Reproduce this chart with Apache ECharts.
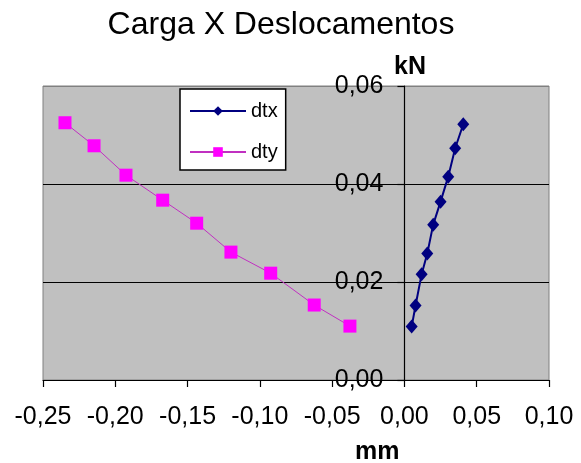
<!DOCTYPE html>
<html>
<head>
<meta charset="utf-8">
<script src="https://cdn.jsdelivr.net/npm/echarts@6/dist/echarts.min.js"></script>
<style>
  html, body { margin: 0; padding: 0; background: #fff; }
  #chart { width: 581px; height: 463px; }
</style>
</head>
<body>
<div id="chart"></div>
<script>
// Load (kN) versus displacement (mm) for the two measured directions
const dtxDisp = [0.0050, 0.0077, 0.0119, 0.0158, 0.0199, 0.0250, 0.0303, 0.0351, 0.0407];
const dtxLoad = [0.0109, 0.0152, 0.0216, 0.0258, 0.0317, 0.0364, 0.0415, 0.0473, 0.0522];
const dtyDisp = [-0.2348, -0.2147, -0.1926, -0.1672, -0.1437, -0.1200, -0.0925, -0.0624, -0.0377];
const dtyLoad = [0.0525, 0.0478, 0.0418, 0.0367, 0.0320, 0.0261, 0.0218, 0.0153, 0.0110];

const xTicks = { min: -0.25, max: 0.10, step: 0.05 };
const yTicks = { min: 0, max: 0.06, step: 0.02 };

const FONT = '"Liberation Sans", Arial, sans-serif';
const comma = v => v.toFixed(2).replace('.', ',');
const pairs = (xs, ys) => xs.map((x, i) => [x, ys[i]]);

const W = 581;
const gridBox = { left: 43, right: 32, top: 86, bottom: 83 };
// The load axis crosses the displacement axis at zero: shift it right from the grid's left edge
const plotWidth = W - gridBox.left - gridBox.right;
const yAxisShift = (0 - xTicks.min) / (xTicks.max - xTicks.min) * plotWidth;

const chart = echarts.init(document.getElementById('chart'), null, { renderer: 'canvas' });

chart.setOption({
  animation: false,
  backgroundColor: '#ffffff',
  textStyle: { fontFamily: FONT },
  title: {
    text: 'Carga X Deslocamentos',
    left: 276,
    textAlign: 'center',
    top: 4,
    textStyle: { fontFamily: FONT, fontSize: 32, fontWeight: 'normal', color: '#000' }
  },
  grid: Object.assign({
    show: true,
    containLabel: false,
    outerBoundsMode: 'none',
    backgroundColor: '#c0c0c0',
    borderColor: '#808080',
    borderWidth: 1
  }, gridBox),
  legend: {
    orient: 'vertical',
    left: 180,
    top: 89,
    width: 111,
    padding: [12, 8, 8, 9],
    itemGap: 21,
    itemWidth: 56,
    itemHeight: 12,
    backgroundColor: '#ffffff',
    borderColor: '#000000',
    borderWidth: 1.5,
    borderRadius: 0,
    textStyle: { fontFamily: FONT, fontSize: 20, color: '#000' },
    data: ['dtx', 'dty']
  },
  xAxis: {
    type: 'value',
    min: xTicks.min, max: xTicks.max, interval: xTicks.step,
    axisLine: { show: true, onZero: false, lineStyle: { color: '#000', width: 1.2 } },
    axisTick: { show: true, inside: false, length: 7, lineStyle: { color: '#000', width: 1.2 } },
    axisLabel: { formatter: comma, fontSize: 25, color: '#000', margin: 25, fontFamily: FONT },
    splitLine: { show: false }
  },
  yAxis: {
    type: 'value',
    position: 'left',
    offset: -yAxisShift,
    min: yTicks.min, max: yTicks.max, interval: yTicks.step,
    axisLine: { show: true, onZero: false, lineStyle: { color: '#000', width: 1.2 } },
    axisTick: { show: true, inside: false, length: 7, lineStyle: { color: '#000', width: 1.2 } },
    axisLabel: { formatter: comma, fontSize: 25, color: '#000', margin: 21, fontFamily: FONT },
    splitLine: { show: true, lineStyle: { color: ['#000', '#000', '#000', '#808080'], width: 1.2 } }
  },
  graphic: [
    {
      type: 'text', left: 394, top: 55,
      style: { text: 'kN', fontFamily: FONT, fontSize: 25, fontWeight: 'bold', fill: '#000' }
    },
    {
      type: 'text', left: 355, top: 440,
      style: { text: 'mm', fontFamily: FONT, fontSize: 25, fontWeight: 'bold', fill: '#000' }
    }
  ],
  series: [
    {
      name: 'dtx',
      type: 'line',
      data: pairs(dtxDisp, dtxLoad),
      symbol: 'diamond',
      symbolSize: [12, 14],
      itemStyle: { color: '#000080' },
      lineStyle: { color: '#000080', width: 2 },
      z: 3
    },
    {
      name: 'dty',
      type: 'line',
      data: pairs(dtyDisp, dtyLoad),
      symbol: 'rect',
      symbolSize: 13,
      itemStyle: { color: '#ff00ff' },
      lineStyle: { color: '#c030c0', width: 1 },
      z: 3
    }
  ]
});
</script>
</body>
</html>
